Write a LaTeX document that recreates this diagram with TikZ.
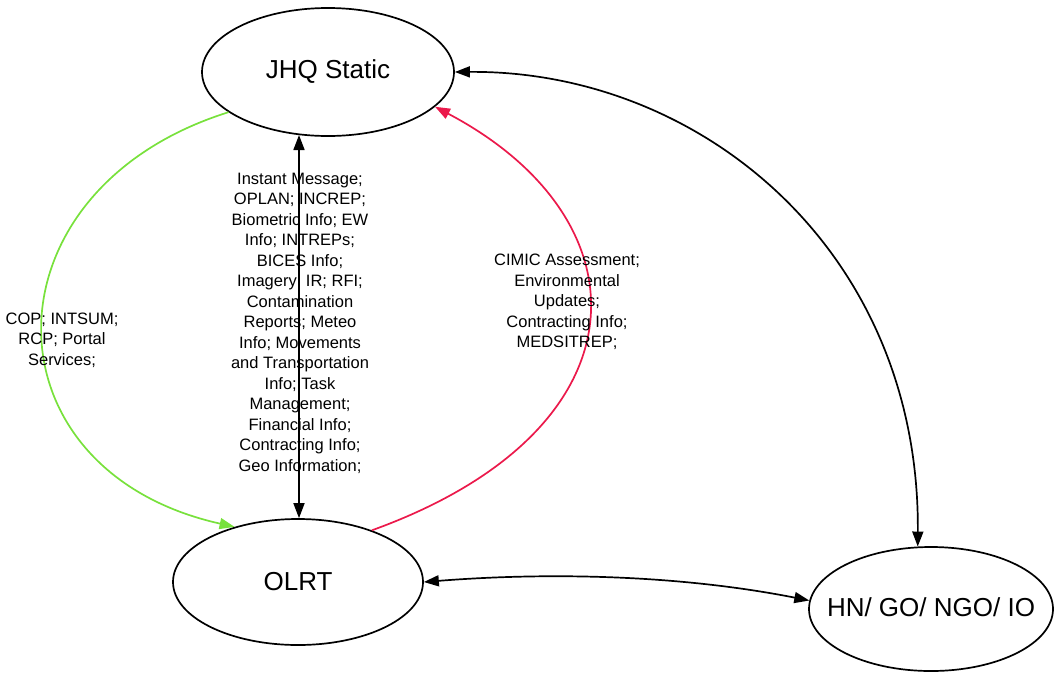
\documentclass[tikz,border=0pt]{standalone}
\usepackage{fontspec}
\setmainfont{Liberation Sans}
\usetikzlibrary{shapes.geometric,arrows.meta}
\definecolor{lgreen}{RGB}{120,225,60}
\definecolor{lred}{RGB}{235,25,75}
\begin{document}
\begin{tikzpicture}[x=1pt,y=-1pt,
  state/.style={draw, ellipse, line width=1.7pt, inner sep=0pt},
  stxt/.style={font=\fontsize{26}{30}\selectfont, inner sep=0pt},
  lbl/.style={align=center, font=\fontsize{16.5}{20.5}\selectfont, inner sep=0pt},
  conn/.style={line width=1.7pt, -{Triangle[length=15pt,width=11pt]}},
  dconn/.style={line width=1.7pt, {Triangle[length=15pt,width=11pt]}-{Triangle[length=15pt,width=11pt]}}]
\useasboundingbox (0,0) rectangle (1054,673);
\node[state, minimum width=252pt, minimum height=128pt] (jhq) at (328,72) {};
\node[stxt] (jhqt) at (jhq.center) {JHQ Static};
\node[state, minimum width=250pt, minimum height=126pt] (olrt) at (298,582) {};
\node[stxt] (olrtt) at (olrt.center) {OLRT};
\node[state, minimum width=244pt, minimum height=124pt] (hn) at (931,609) {};
\node[stxt] (hnt) at (931,607) {HN/ GO/ NGO/ IO};
% connectors
\coordinate (jb) at (299,135);
\draw[dconn] (jb) -- (olrt.north -| jb);
\draw[conn, lgreen] (jhq.202) .. controls (-20,190) and (-20,470) .. (olrt.139);
\draw[conn, lred] (olrt.35) .. controls (650,430) and (650,220) .. (jhq.342);
\draw[dconn] (jhq.0) .. controls (700,70) and (920,250) .. (hn.102);
\draw[dconn] (olrt.0) .. controls (550,572) and (680,575) .. (hn.176);
% labels
\node[lbl] (l1) at (300,323) {Instant Message;\\OPLAN; INCREP;\\Biometric Info; EW\\Info; INTREPs;\\BICES Info;\\Imagery; IR; RFI;\\Contamination\\Reports; Meteo\\Info; Movements\\and Transportation\\Info; Task\\Management;\\Financial Info;\\Contracting Info;\\Geo Information;};
\node[lbl] (l2) at (567,302) {CIMIC Assessment;\\Environmental\\Updates;\\Contracting Info;\\MEDSITREP;};
\node[lbl] (l3) at (62,340) {COP; INTSUM;\\RCP; Portal\\Services;};
\end{tikzpicture}
\end{document}
